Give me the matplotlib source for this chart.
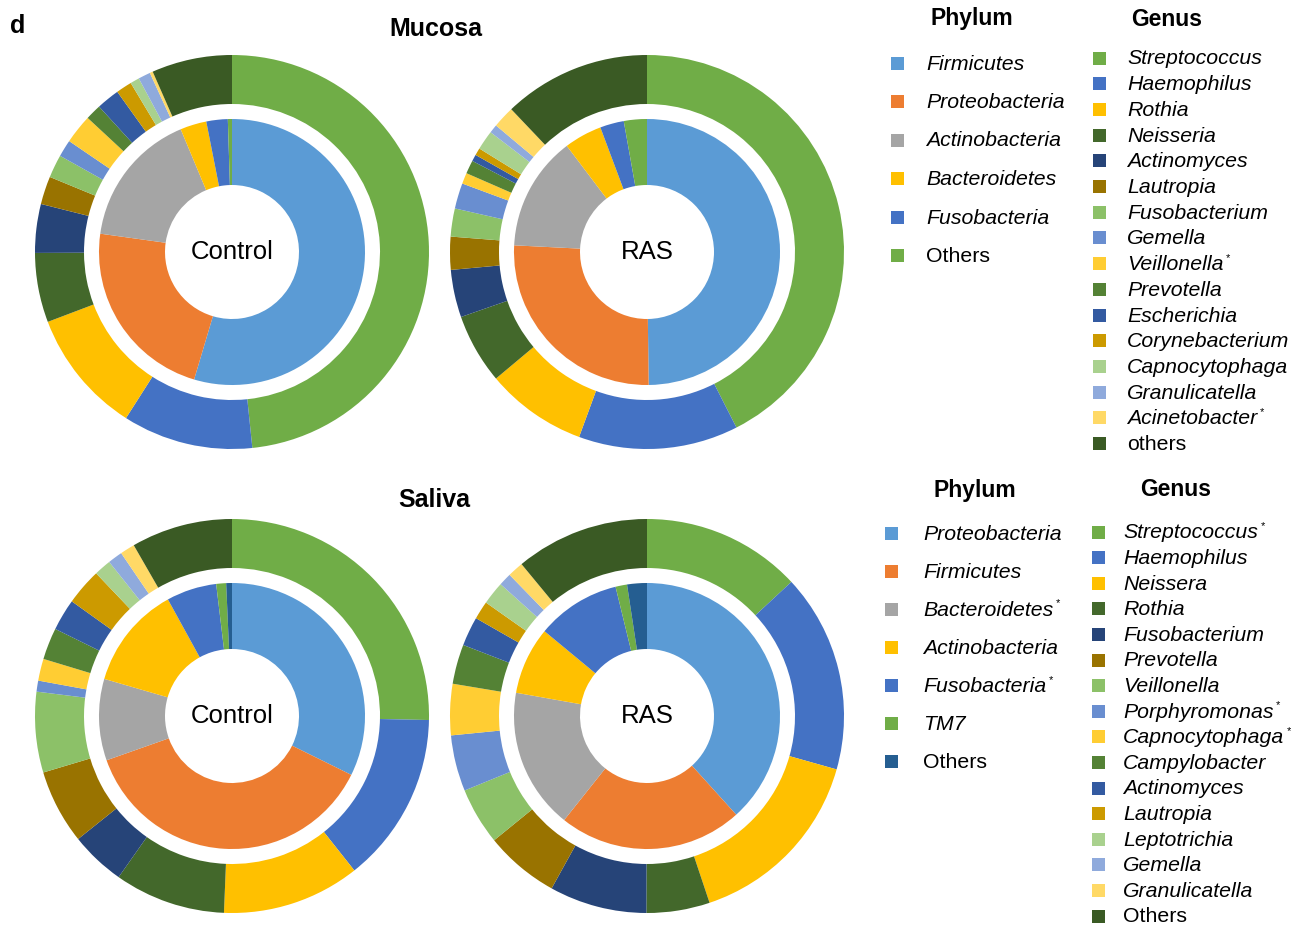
import matplotlib
matplotlib.use("Agg")
import matplotlib.pyplot as plt
from matplotlib.patches import Rectangle

plt.rcParams['font.family'] = ['Liberation Sans', 'DejaVu Sans']

W, H = 1291, 926

# phylum (inner ring) and genus (outer ring) relative abundance, %
muc_phylum = ['Firmicutes', 'Proteobacteria', 'Actinobacteria', 'Bacteroidetes',
              'Fusobacteria', 'Others']
muc_phylum_ctrl = [54.6, 22.6, 16.5, 3.2, 2.6, 0.5]
muc_phylum_ras = [49.8, 26.0, 13.9, 4.6, 2.9, 2.8]

muc_genus = ['Streptococcus', 'Haemophilus', 'Rothia', 'Neisseria', 'Actinomyces',
             'Lautropia', 'Fusobacterium', 'Gemella', 'Veillonella', 'Prevotella',
             'Escherichia', 'Corynebacterium', 'Capnocytophaga', 'Granulicatella',
             'Acinetobacter', 'others']
muc_genus_ctrl = [48.4, 10.7, 10.2, 5.7, 4.0, 2.3, 1.9, 1.4, 2.4, 1.3,
                  1.9, 1.3, 0.75, 1.0, 0.25, 6.6]
muc_genus_ras = [42.5, 13.1, 8.3, 5.75, 3.9, 2.7, 2.3, 2.1, 0.9, 1.1,
                 0.55, 0.6, 1.6, 0.7, 1.8, 12.1]

sal_phylum = ['Proteobacteria', 'Firmicutes', 'Bacteroidetes', 'Actinobacteria',
              'Fusobacteria', 'TM7', 'Others']
sal_phylum_ctrl = [32.3, 37.3, 9.9, 12.5, 6.1, 1.2, 0.7]
sal_phylum_ras = [38.3, 22.4, 17.1, 8.2, 10.2, 1.4, 2.4]

sal_genus = ['Streptococcus', 'Haemophilus', 'Neissera', 'Rothia', 'Fusobacterium',
             'Prevotella', 'Veillonella', 'Porphyromonas', 'Capnocytophaga',
             'Campylobacter', 'Actinomyces', 'Lautropia', 'Leptotrichia', 'Gemella',
             'Granulicatella', 'Others']
sal_genus_ctrl = [25.3, 14.0, 11.3, 9.1, 4.5, 6.1, 6.6, 0.9, 1.8, 2.6,
                  2.6, 3.0, 1.4, 1.2, 1.2, 8.3]
sal_genus_ras = [13.1, 16.3, 15.5, 5.2, 8.0, 6.1, 4.7, 4.6, 4.2, 3.25,
                 2.4, 1.5, 1.9, 1.05, 1.3, 11.0]

# names marked as significant
starred = {('muc', 'Veillonella'), ('muc', 'Acinetobacter'),
           ('sal', 'Bacteroidetes'), ('sal', 'Fusobacteria'),
           ('sal', 'Streptococcus'), ('sal', 'Porphyromonas'),
           ('sal', 'Capnocytophaga')}

phylum_colors = ['#5B9BD5', '#ED7D31', '#A5A5A5', '#FFC000', '#4472C4', '#70AD47', '#255E91']
genus_colors = ['#70AD47', '#4472C4', '#FFC000', '#43682B', '#264478', '#997300',
                '#8CC168', '#698ED0', '#FFCD33', '#548235', '#335AA1', '#CC9A00',
                '#A9D18E', '#8FAADC', '#FFD966', '#3A5A24']

fig = plt.figure(figsize=(W / 100, H / 100), dpi=100)
ax = fig.add_axes([0, 0, 1, 1])


def donut(cx, cy, inner, outer, label):
    # y axis is flipped (pixel rows), so counterclock + start at -90 runs clockwise from 12 o'clock
    ax.pie(outer, colors=genus_colors[:len(outer)], radius=197, center=(cx, cy),
           startangle=-90, counterclock=True, normalize=True,
           wedgeprops=dict(width=49, linewidth=0))
    ax.pie(inner, colors=phylum_colors[:len(inner)], radius=133, center=(cx, cy),
           startangle=-90, counterclock=True, normalize=True,
           wedgeprops=dict(width=66, linewidth=0))
    ax.text(cx, cy, label, ha='center', va='center', fontsize=18.5)


donut(232, 252, muc_phylum_ctrl, muc_genus_ctrl, 'Control')
donut(647, 252, muc_phylum_ras, muc_genus_ras, 'RAS')
donut(232, 716, sal_phylum_ctrl, sal_genus_ctrl, 'Control')
donut(647, 716, sal_phylum_ras, sal_genus_ras, 'RAS')

ax.text(10, 26, 'd', fontsize=18, fontweight='bold', va='center', ha='left')
ax.text(436, 29, 'Mucosa', fontsize=18, fontweight='bold', va='center', ha='center')
ax.text(434, 500, 'Saliva', fontsize=18, fontweight='bold', va='center', ha='center')


def legend_col(names, colors, tag, header, hx, hy, mx, tx, y0, dy):
    ax.text(hx, hy, header, fontsize=16.5, fontweight='bold', ha='center', va='center')
    for i, (name, col) in enumerate(zip(names, colors)):
        y = y0 + i * dy
        ax.add_patch(Rectangle((mx - 6.5, y - 6.5), 13, 13, facecolor=col,
                               edgecolor='none'))
        style = 'normal' if name.lower() == 'others' else 'italic'
        t = ax.text(tx, y + 1, name, fontsize=15.3, fontstyle=style,
                    ha='left', va='center')
        if (tag, name) in starred:
            ax.annotate('*', xy=(1, 1), xycoords=t, xytext=(2, -2),
                        textcoords='offset points', fontsize=8,
                        ha='left', va='center')


legend_col(muc_phylum, phylum_colors, 'muc', 'Phylum', 972, 19, 897, 926, 63, 38.5)
legend_col(muc_genus, genus_colors, 'muc', 'Genus', 1167, 19, 1099, 1127, 58, 25.7)
legend_col(sal_phylum, phylum_colors, 'sal', 'Phylum', 975, 490, 891, 923, 533, 38.1)
legend_col(sal_genus, genus_colors, 'sal', 'Genus', 1176, 490, 1098, 1123, 532, 25.6)

ax.set_xlim(0, W)
ax.set_ylim(H, 0)
ax.set_aspect('equal')
ax.axis('off')

fig.savefig('out.png', dpi=100, facecolor='white')
